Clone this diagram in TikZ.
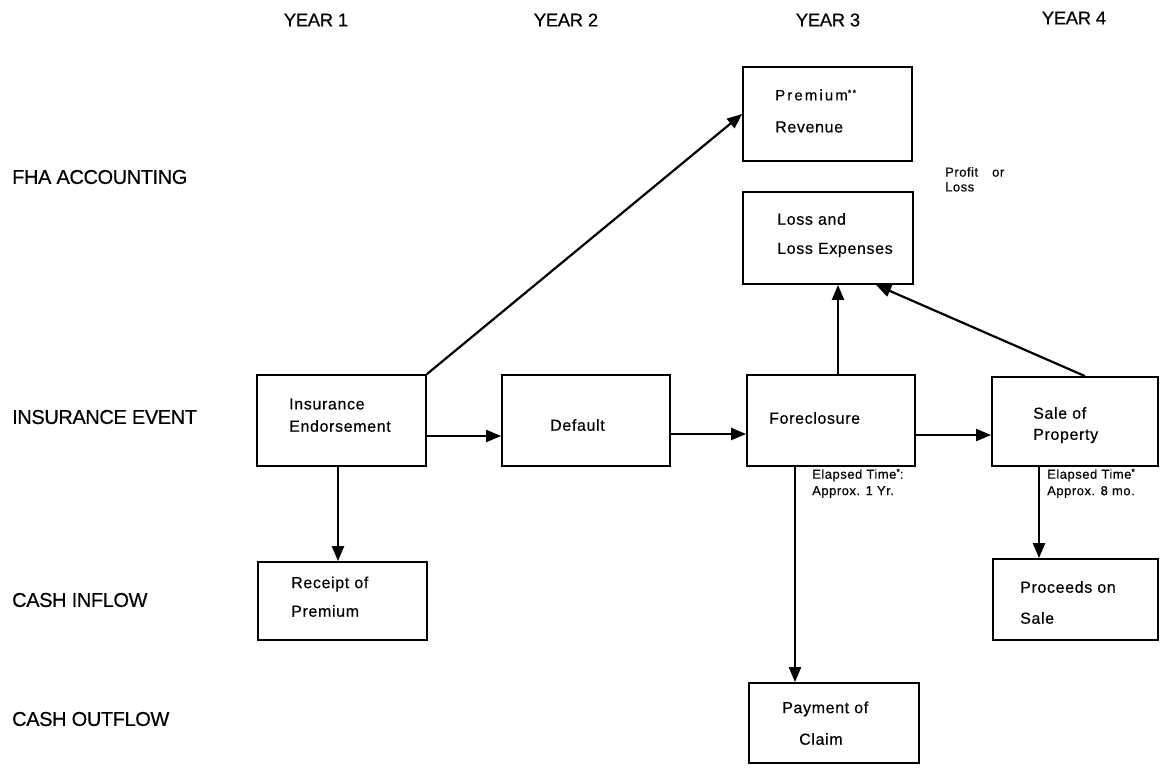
\documentclass[tikz,border=0pt]{standalone}
\usepackage{fontspec}
\setmainfont[FakeBold=0.4]{Liberation Sans}
\newfontfamily\spacedfont[LetterSpace=14,FakeBold=0.4]{Liberation Sans}
\newfontfamily\lsfont[LetterSpace=4,FakeBold=0.4]{Liberation Sans}
\newfontfamily\rowfont[LetterSpace=-2,FakeBold=0.4]{Liberation Sans}
\usetikzlibrary{arrows.meta}
\begin{document}
\begin{tikzpicture}[x=1pt,y=-1pt,
  box/.style={draw, line width=1.8pt, inner sep=0pt, minimum width=#1},
  lbl/.style={font=\rowfont\fontsize{18.5}{20}\selectfont, inner sep=0pt},
  rowlbl/.style={font=\rowfont\fontsize{20}{22}\selectfont, inner sep=0pt, anchor=west},
  txt/.style={font=\lsfont\fontsize{16}{18}\selectfont, anchor=west, inner sep=0pt},
  note/.style={font=\lsfont\fontsize{13}{15}\selectfont, anchor=west, inner sep=0pt},
  arr/.style={line width=2.2pt, -{Triangle[length=15pt,width=12pt]}}]
\useasboundingbox (0,0) rectangle (1170,774);
% column headings
\node[lbl] (y1) at (316,20) {YEAR 1};
\node[lbl] (y2) at (566,20) {YEAR 2};
\node[lbl] (y3) at (828,20) {YEAR 3};
\node[lbl] (y4) at (1074,18) {YEAR 4};
% row headings
\node[rowlbl] (r1) at (12,177) {FHA ACCOUNTING};
\node[rowlbl] (r2) at (12,417) {INSURANCE EVENT};
\node[rowlbl] (r3) at (12,600) {CASH INFLOW};
\node[rowlbl] (r4) at (12,719) {CASH OUTFLOW};
% boxes
\node[box=169pt, minimum height=94pt] (prem) at (827.5,114) {};
\node[box=170pt, minimum height=92pt] (loss) at (828,238) {};
\node[box=169pt, minimum height=91pt] (ins) at (341.5,420.5) {};
\node[box=168pt, minimum height=91pt] (def) at (586,420.5) {};
\node[box=168pt, minimum height=91pt] (fore) at (831,420.5) {};
\node[box=166pt, minimum height=89pt] (sale) at (1075,421.5) {};
\node[box=169pt, minimum height=78pt] (rec) at (342.5,601) {};
\node[box=165pt, minimum height=81pt] (proc) at (1075.5,599.5) {};
\node[box=170pt, minimum height=80pt] (pay) at (834,723) {};
% box texts
\node[txt, font=\spacedfont\fontsize{15}{17}\selectfont] (premA) at (775,95) {Premium\raisebox{0.3em}{\small **}};
\node[txt] (premB) at (775,127) {Revenue};
\node[txt] (lossA) at (777,219) {Loss and};
\node[txt] (lossB) at (777,250) {Loss Expenses};
\node[note] (profA) at (945,172) {Profit\hspace{14pt}or};
\node[note] (profB) at (945,187) {Loss};
\node[txt] (insA) at (289,404) {Insurance};
\node[txt] (insB) at (289,426) {Endorsement};
\node[txt] (defA) at (550,425) {Default};
\node[txt] (foreA) at (769,418) {Foreclosure};
\node[txt] (saleA) at (1033,413) {Sale of};
\node[txt] (saleB) at (1033,436) {Property};
\node[note] (et1A) at (812,475) {Elapsed Time\raisebox{0.3em}{\small *}:};
\node[note] (et1B) at (812,492) {Approx. 1 Yr.};
\node[note] (et2A) at (1047,475) {Elapsed Time\raisebox{0.3em}{\small *}};
\node[note] (et2B) at (1047,492) {Approx. 8 mo.};
\node[txt] (recA) at (291,584) {Receipt of};
\node[txt] (recB) at (291,611) {Premium};
\node[txt] (procA) at (1020,587) {Proceeds on};
\node[txt] (procB) at (1020,618) {Sale};
\node[txt] (payA) at (782,709) {Payment of};
\node[txt] (payB) at (799,739) {Claim};
% connectors
\draw[arr] (ins.north east) -- (prem.west);
\draw[arr] (ins.east |- 0,436) -- (def.west |- 0,436);
\draw[arr] (def.east |- 0,434) -- (fore.west |- 0,434);
\draw[arr] (fore.east |- 0,435) -- (sale.west |- 0,435);
\draw[arr] (fore.north -| 838,0) -- (loss.south -| 838,0);
\draw[arr] (sale.north -| 1085,0) -- (loss.south -| 876,0);
\draw[arr] (ins.south -| 338,0) -- (rec.north -| 338,0);
\draw[arr] (fore.south -| 795,0) -- (pay.north -| 795,0);
\draw[arr] (sale.south -| 1039,0) -- (proc.north -| 1039,0);
\end{tikzpicture}
\end{document}
